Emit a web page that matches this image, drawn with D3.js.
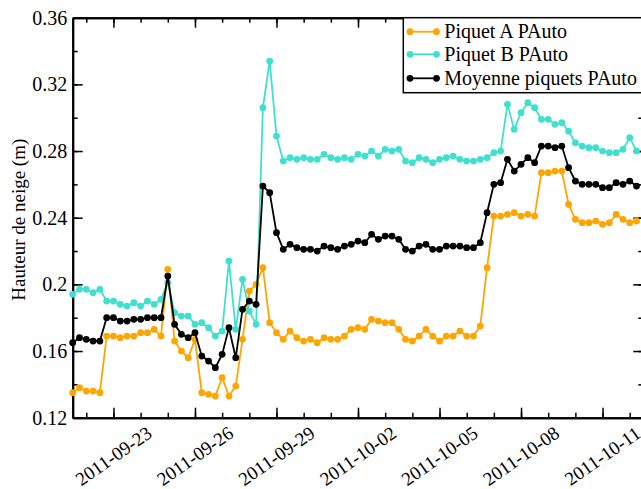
<!DOCTYPE html>
<html>
<head>
<meta charset="utf-8">
<script src="https://cdn.jsdelivr.net/npm/d3@7"></script>
<style>
  html, body { margin: 0; padding: 0; background: #fff; }
  svg { display: block; }
  svg text { font-family: "Liberation Serif", "Times New Roman", serif; }
</style>
</head>
<body>
<svg id="chart" width="641" height="489"></svg>
<script>
// ---- Data ----
const startTime = "2011-09-21T12:00:00Z";   // first sample
const stepHours = 6;                         // sampling interval

const piquetA = [0.135,0.138,0.136,0.136,0.135,0.169,0.169,0.168,0.169,0.169,
  0.171,0.171,0.173,0.169,0.209,0.166,0.160,0.156,0.167,0.135,
  0.134,0.133,0.144,0.133,0.139,0.167,0.196,0.200,0.210,0.177,
  0.171,0.167,0.172,0.168,0.166,0.167,0.165,0.168,0.167,0.167,
  0.169,0.173,0.174,0.173,0.179,0.178,0.177,0.177,0.173,0.167,
  0.166,0.169,0.173,0.169,0.166,0.169,0.169,0.172,0.169,0.169,
  0.175,0.210,0.241,0.241,0.242,0.243,0.241,0.242,0.241,0.267,
  0.267,0.268,0.268,0.248,0.239,0.237,0.237,0.238,0.236,0.237,
  0.242,0.239,0.237,0.238];

const piquetB = [0.194,0.197,0.197,0.195,0.197,0.190,0.190,0.188,0.187,0.189,
  0.187,0.190,0.188,0.191,0.201,0.183,0.181,0.181,0.176,0.177,
  0.174,0.169,0.172,0.214,0.173,0.203,0.184,0.176,0.306,0.334,
  0.289,0.274,0.276,0.275,0.276,0.275,0.275,0.278,0.276,0.275,
  0.276,0.275,0.278,0.277,0.280,0.277,0.281,0.280,0.281,0.274,
  0.273,0.276,0.275,0.273,0.275,0.276,0.277,0.275,0.274,0.274,
  0.275,0.276,0.279,0.280,0.308,0.293,0.303,0.309,0.306,0.299,
  0.299,0.296,0.297,0.292,0.285,0.283,0.282,0.282,0.280,0.279,
  0.279,0.281,0.288,0.280];

const moyenne = [0.165,0.168,0.167,0.166,0.166,0.180,0.180,0.178,0.178,0.179,
  0.179,0.180,0.180,0.180,0.205,0.176,0.170,0.168,0.171,0.157,
  0.154,0.150,0.158,0.174,0.156,0.185,0.190,0.188,0.259,0.255,
  0.231,0.221,0.224,0.222,0.221,0.221,0.220,0.223,0.222,0.221,
  0.223,0.224,0.226,0.225,0.230,0.227,0.229,0.229,0.227,0.221,
  0.220,0.223,0.224,0.221,0.221,0.223,0.223,0.223,0.222,0.222,
  0.225,0.243,0.260,0.261,0.275,0.268,0.272,0.276,0.273,0.283,
  0.283,0.282,0.283,0.270,0.262,0.260,0.260,0.260,0.258,0.258,
  0.261,0.260,0.262,0.259];

const seriesNames = ["Piquet A PAuto", "Piquet B PAuto", "Moyenne piquets PAuto"];
const seriesColors = ["#FFA500", "#40E0D0", "#000000"];
const xTickLabels = ["2011-09-23","2011-09-26","2011-09-29","2011-10-02","2011-10-05","2011-10-08","2011-10-11"];
const yTickLabels = ["0.12","0.16","0.2","0.24","0.28","0.32","0.36"];
const xDomain = ["2011-09-21T12:00:00Z", "2011-10-12T12:00:00Z"];
const yDomain = [0.12, 0.36];
const yLabel = "Hauteur de neige (m)";

// ---- Layout ----
const FONT = "Liberation Serif";
const L = 72.7, R = 643.3, T = 17.7, B = 417.7;
const svg = d3.select("#chart");

const t0 = new Date(startTime).getTime();
const times = piquetA.map((_, i) => new Date(t0 + i * stepHours * 3600 * 1000));

const x = d3.scaleUtc().domain(xDomain.map(d => new Date(d))).range([L, R]);
const y = d3.scaleLinear().domain(yDomain).range([B, T]);

const parseDay = d3.utcParse("%Y-%m-%d");
const xMajor = xTickLabels.map(parseDay);
const xMinor = d3.utcDay.range(new Date(xDomain[0]), new Date(xDomain[1]));
const yMajor = yTickLabels.map(Number);
const yMinor = d3.range(0, 13).map(i => +(0.12 + i * 0.02).toFixed(2));

function styleAxis(g, w) {
  g.select(".domain").attr("stroke", "#000").attr("stroke-width", 2);
  g.selectAll(".tick line").attr("stroke", "#000").attr("stroke-width", w);
}

const axes = [
  [d3.axisBottom(x), `translate(0,${B})`, xMinor, -5],
  [d3.axisTop(x), `translate(0,${T})`, xMinor, -5],
  [d3.axisLeft(y), `translate(${L},0)`, yMinor, -5],
  [d3.axisRight(y), `translate(${R},0)`, yMinor, -5],
  [d3.axisBottom(x), `translate(0,${B})`, xMajor, -10],
  [d3.axisTop(x), `translate(0,${T})`, xMajor, -10],
  [d3.axisLeft(y), `translate(${L},0)`, yMajor, -10],
  [d3.axisRight(y), `translate(${R},0)`, yMajor, -10]
];
axes.forEach(([ax, tr, vals, size]) => {
  const g = svg.append("g").attr("transform", tr)
    .call(ax.tickValues(vals).tickSize(size).tickSizeOuter(0).tickFormat(""));
  styleAxis(g, 1.5);
  g.selectAll(".tick text").remove();
});

// Y tick labels
const yLab = svg.append("g").attr("transform", `translate(${L},0)`)
  .call(d3.axisLeft(y).tickValues(yMajor).tickSize(0).tickPadding(5.5)
    .tickFormat((d, i) => yTickLabels[i]));
yLab.attr("font-family", FONT).attr("font-size", 20);
yLab.select(".domain").remove();
yLab.selectAll("text").attr("font-family", FONT).attr("font-size", 20).attr("fill", "#000");

// X tick labels (rotated)
svg.append("g").attr("font-family", FONT).selectAll("text").data(xMajor).join("text")
  .attr("transform", (d) => `translate(${x(d)},456) rotate(-35)`)
  .attr("text-anchor", "middle")
  .attr("dominant-baseline", "central")
  .attr("font-family", FONT)
  .attr("font-size", 19)
  .attr("fill", "#000")
  .text((d, i) => xTickLabels[i]);

// Y axis title
svg.append("text")
  .attr("transform", `translate(25,${(T + B) / 2 + 2}) rotate(-90)`)
  .attr("text-anchor", "middle")
  .attr("font-family", FONT)
  .attr("font-size", 19)
  .attr("fill", "#000")
  .text(yLabel);

// Series
const allSeries = [piquetA, piquetB, moyenne];
const line = d3.line().x((d, i) => x(times[i])).y(d => y(d));
allSeries.forEach((vals, k) => {
  const g = svg.append("g");
  g.append("path").datum(vals).attr("d", line)
    .attr("fill", "none").attr("stroke", seriesColors[k]).attr("stroke-width", 1.8);
  g.selectAll("circle").data(vals).join("circle")
    .attr("cx", (d, i) => x(times[i])).attr("cy", d => y(d)).attr("r", 3.4)
    .attr("fill", seriesColors[k]);
});

// Legend
const lg = svg.append("g").attr("font-family", FONT);
lg.append("rect").attr("x", 403.3).attr("y", T).attr("width", 260).attr("height", 92.7 - T)
  .attr("fill", "#fff").attr("stroke", "#000").attr("stroke-width", 1.5);
const rowsY = [31.7, 54.3, 78.3];
seriesNames.forEach((name, k) => {
  const cy = rowsY[k];
  lg.append("line").attr("x1", 410).attr("x2", 436.5).attr("y1", cy).attr("y2", cy)
    .attr("stroke", seriesColors[k]).attr("stroke-width", 1.8);
  [410, 436.5].forEach(cx => lg.append("circle").attr("cx", cx).attr("cy", cy).attr("r", 3.4)
    .attr("fill", seriesColors[k]));
  lg.append("text").attr("x", 444.3).attr("y", cy + 6.5)
    .attr("font-family", FONT).attr("font-size", 20)
    .attr("fill", "#000").text(name);
});
</script>
</body>
</html>
